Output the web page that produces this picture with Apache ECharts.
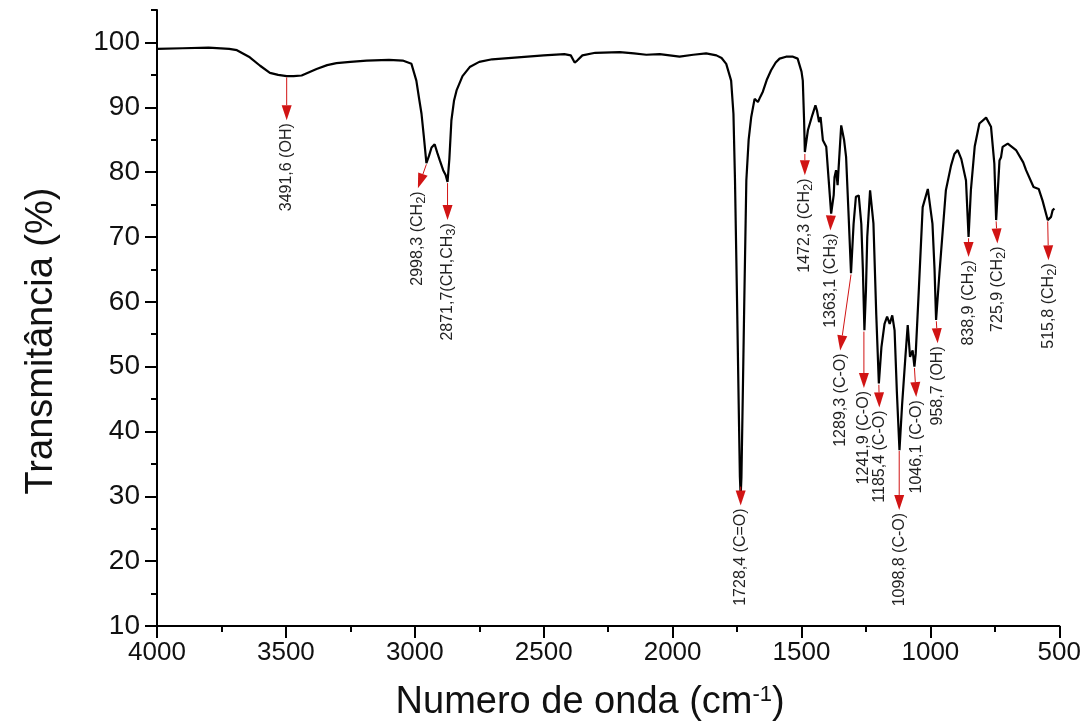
<!DOCTYPE html>
<html>
<head>
<meta charset="utf-8">
<script src="https://cdn.jsdelivr.net/npm/echarts@6/dist/echarts.min.js"></script>
<style>html,body{margin:0;padding:0;background:#fff}#c{width:1084px;height:727px}</style>
</head>
<body>
<div id="c"></div>
<script>
// Wavenumber (cm-1) and transmittance (%)
var wavenumbers = [4000,3900,3800,3720,3690,3640,3600,3562,3530,3497,3470,3439,3410,3381,3340,3304,3250,3187,3100,3047,3013,2994,2984,2974,2965,2955,2945,2935,2923,2913,2903,2890,2880,2873,2866,2858,2848,2838,2815,2787,2750,2700,2600,2500,2420,2395,2380,2370,2350,2300,2205,2150,2102,2050,1973,1920,1870,1830,1810,1792,1773,1764,1758,1750,1744,1739,1736,1733,1728,1722,1714,1705,1695,1682,1675,1669,1660,1650,1635,1618,1600,1585,1560,1533,1515,1508,1500,1495,1490,1487,1475,1458,1446,1440,1432,1426,1417,1404,1395,1385,1375,1372,1366,1360,1354,1346,1335,1327,1318,1308,1298,1289,1278,1268,1262,1256,1250,1245,1234,1221,1210,1200,1190,1178,1168,1158,1148,1139,1130,1120,1110,1097,1088,1079,1069,1062,1057,1045,1030,1010,992,984,978,965,940,920,907,894,880,862,852,843,828,810,784,765,752,745,732,726,720,700,668,640,629,600,580,565,545,532,526,519];
var transmittance = [99.0,99.1,99.2,99.0,98.8,97.7,96.4,95.3,95.0,94.8,94.8,94.9,95.4,95.9,96.5,96.8,97.0,97.2,97.3,97.2,96.7,94.1,91.5,89.0,85.5,81.4,82.5,83.8,84.3,83.0,81.8,80.3,79.5,78.5,82.0,88.0,91.0,92.6,94.8,96.2,97.0,97.4,97.7,98.0,98.2,98.0,96.9,97.2,98.0,98.4,98.5,98.3,98.1,98.2,97.8,98.1,98.3,98.0,97.6,96.7,94.1,89.0,78.7,60,45,33,30,33,45,60,78.7,85.0,88.5,91.3,91.0,90.8,91.6,92.4,94.2,95.7,96.9,97.5,97.8,97.8,97.5,97.2,95.5,94.1,88.0,83.1,86.5,88.8,90.3,89.5,87.7,88.5,84.9,83.9,79.0,73.6,76.5,79.2,80.3,78.0,82.0,87.2,85.0,82.3,74.0,64.4,72.0,76.2,76.4,72.0,65.0,55.6,61.8,70.0,77.2,72.1,58.0,47.4,53.0,56.6,57.7,56.6,57.9,55.6,46.0,37.1,44.0,51.5,56.4,51.5,52.5,50.0,52.0,61.8,74.6,77.4,72.0,65.0,57.2,64.4,77.2,81.0,82.8,83.4,82.0,78.7,70.0,77.2,84.0,87.5,88.4,87.0,81.3,72.6,81.8,82.3,83.9,84.4,83.4,81.5,80.3,77.7,77.4,75.6,72.6,73.1,74.1,74.4];

// Peak annotations: label text ("_" marks a subscript digit), arrow start (on curve) and arrow tip
var peakLabels = ['3491,6 (OH)','2998,3 (CH_2)','2871,7(CH,CH_3)','1728,4 (C=O)','1472,3 (CH_2)','1363,1 (CH_3)','1289,3 (C-O)','1241,9 (C-O)','1185,4 (C-O)','1098,8 (C-O)','1046,1 (C-O)','958,7 (OH)','838,9 (CH_2)','725,9 (CH_2)','515,8 (CH_2)'];
var arrowStartWn = [3497,2955,2873,1736,1487,1386,1308,1258,1200,1121,1062,977,852,745,545];
var arrowStartT  = [94.6,81.2,78.3,31.5,82.8,73.4,64.2,55.4,47.2,37.0,49.8,57.0,69.8,72.4,72.4];
var arrowTipWn   = [3497,2988,2873,1736,1487,1388,1350,1258,1198,1121,1055,972,852,740,542];
var arrowTipT    = [88.0,77.5,72.6,28.6,79.5,71.0,52.5,46.7,43.7,27.9,45.3,53.6,66.9,69.0,66.4];

var xTicks = [4000,3500,3000,2500,2000,1500,1000,500];
var yTicks = [10,20,30,40,50,60,70,80,90,100];

var spectrum = wavenumbers.map(function(w,i){return [w, transmittance[i]];});
var annotations = peakLabels.map(function(t,i){return [arrowStartWn[i],arrowStartT[i],arrowTipWn[i],arrowTipT[i],i];});
function richLabel(t){ return '{a|' + t.replace(/_(\d)/g, '}{s|$1}{a|') + '}'; }

var chart = echarts.init(document.getElementById('c'), null, {renderer:'canvas'});
var FONT = 'Liberation Sans, Arial, sans-serif';
var RED = '#d11414';
var plain = function(v){ return String(v); };

chart.setOption({
  animation: false,
  backgroundColor: '#fff',
  grid: {left: 157, right: 24, top: 10, bottom: 101, containLabel: false},
  xAxis: {
    type: 'value', min: 500, max: 4000, interval: 500, inverse: true,
    axisLine: {show: true, onZero: false, lineStyle: {color: '#000', width: 2}},
    axisTick: {show: true, length: 12, lineStyle: {color: '#000', width: 2}, customValues: xTicks},
    minorTick: {show: true, splitNumber: 2, length: 6, lineStyle: {color: '#000', width: 2}},
    axisLabel: {color: '#111', fontSize: 26, fontFamily: FONT, margin: 14, customValues: xTicks, formatter: plain},
    splitLine: {show: false},
    name: '{a|Numero de onda (cm}{b|-1}{a|)}',
    nameLocation: 'middle', nameGap: 58,
    nameTextStyle: {padding: [0, 36, 0, 0], rich: {
      a: {fontSize: 38, fontFamily: FONT, color: '#111'},
      b: {fontSize: 22, fontFamily: FONT, color: '#111', verticalAlign: 'top'}
    }}
  },
  yAxis: [{
    type: 'value', min: 10, max: 105, interval: 10,
    axisLine: {show: true, onZero: false, lineStyle: {color: '#000', width: 2}},
    axisTick: {show: true, length: 12, lineStyle: {color: '#000', width: 2}, customValues: yTicks},
    axisLabel: {color: '#111', fontSize: 28, fontFamily: FONT, margin: 17, customValues: yTicks, formatter: plain},
    splitLine: {show: false},
    name: 'Transmitância (%)', nameLocation: 'middle', nameGap: 96, nameRotate: 90,
    nameTextStyle: {fontSize: 38, fontFamily: FONT, color: '#111', padding: [0, 46, 0, 0]}
  }, {
    type: 'value', min: 10, max: 105, interval: 5, position: 'left',
    axisLine: {show: false},
    axisTick: {show: true, length: 6, lineStyle: {color: '#000', width: 2}},
    axisLabel: {show: false}, splitLine: {show: false}
  }],
  series: [{
    type: 'line', data: spectrum, showSymbol: false, symbol: 'none',
    lineStyle: {color: '#000', width: 2.2}, z: 3, silent: true
  }, {
    type: 'custom', data: annotations, z: 4, silent: true, clip: false,
    encode: {x: [0, 2], y: [1, 3]},
    renderItem: function(params, api){
      var p0 = api.coord([api.value(0), api.value(1)]);
      var p1 = api.coord([api.value(2), api.value(3)]);
      var dx = p1[0]-p0[0], dy = p1[1]-p0[1];
      var len = Math.sqrt(dx*dx+dy*dy) || 1;
      var ux = dx/len, uy = dy/len;
      var L = 15, W = 10;
      var bx = p1[0]-ux*L, by = p1[1]-uy*L;
      var nx = -uy, ny = ux;
      var idx = api.value(4);
      return {type: 'group', children: [
        {type: 'line', shape: {x1: p0[0], y1: p0[1], x2: bx, y2: by}, style: {stroke: RED, lineWidth: 1}},
        {type: 'polygon', shape: {points: [[p1[0],p1[1]],[bx+nx*W/2, by+ny*W/2],[bx-nx*W/2, by-ny*W/2]]}, style: {fill: RED}},
        {type: 'text', x: p1[0], y: p1[1]+3, rotation: Math.PI/2,
          style: {text: richLabel(peakLabels[idx]),
            align: 'right', verticalAlign: 'middle',
            rich: {
              a: {fontSize: 16, fontFamily: FONT, fill: '#222', color: '#222', lineHeight: 20},
              s: {fontSize: 13, fontFamily: FONT, fill: '#222', color: '#222', verticalAlign: 'bottom', lineHeight: 20}
            }}}
      ]};
    }
  }]
});
</script>
</body>
</html>
